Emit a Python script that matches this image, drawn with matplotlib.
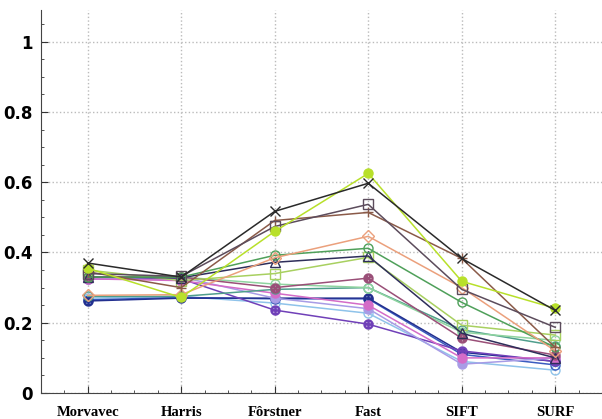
import matplotlib.pyplot as plt
from matplotlib.ticker import MultipleLocator

detectors = ["Morvavec", "Harris", "Fôrstner", "Fast", "SIFT", "SURF"]

# repeatability per image pair, one list per sequence
s_black = [0.370, 0.330, 0.517, 0.597, 0.383, 0.235]
s_lime = [0.355, 0.272, 0.460, 0.625, 0.318, 0.241]
s_gray = [0.340, 0.332, 0.474, 0.537, 0.295, 0.187]
s_brown = [0.345, 0.300, 0.491, 0.514, 0.383, 0.130]
s_salmon = [0.278, 0.280, 0.385, 0.446, 0.300, 0.120]
s_green = [0.330, 0.330, 0.392, 0.412, 0.258, 0.130]
s_navy_tri = [0.330, 0.328, 0.372, 0.390, 0.170, 0.100]
s_olive = [0.350, 0.320, 0.340, 0.386, 0.193, 0.165]
s_mauve = [0.330, 0.330, 0.300, 0.327, 0.156, 0.108]
s_mint = [0.330, 0.330, 0.310, 0.300, 0.173, 0.150]
s_teal = [0.275, 0.275, 0.295, 0.300, 0.180, 0.135]
s_pink = [0.325, 0.320, 0.284, 0.250, 0.100, 0.100]
s_navy = [0.262, 0.270, 0.270, 0.270, 0.116, 0.090]
s_blue = [0.265, 0.272, 0.268, 0.268, 0.110, 0.080]
s_lavender = [0.325, 0.330, 0.270, 0.240, 0.082, 0.100]
s_sky = [0.270, 0.275, 0.256, 0.227, 0.090, 0.065]
s_purple = [0.325, 0.325, 0.236, 0.196, 0.120, 0.090]

series = [
    (s_sky, "#8fc3ea", "o", False),
    (s_blue, "#3a5cc0", "o", False),
    (s_navy, "#23308f", "$\\oplus$", False),
    (s_purple, "#7040b8", "$\\oplus$", False),
    (s_lavender, "#a89ce6", "o", True),
    (s_pink, "#d46cc8", "o", True),
    (s_teal, "#4f9e8c", "o", False),
    (s_mint, "#8fd4a0", "o", False),
    (s_mauve, "#9a4f78", "$\\otimes$", False),
    (s_olive, "#a8d060", "s", False),
    (s_navy_tri, "#2e2e5a", "^", False),
    (s_green, "#4fa05a", "o", False),
    (s_salmon, "#eba07c", "D", False),
    (s_brown, "#8a5a48", "+", False),
    (s_gray, "#5c4c5c", "s", False),
    (s_lime, "#b8e02a", "o", True),
    (s_black, "#2a2a2a", "x", False),
]

fig = plt.figure(figsize=(6.02, 4.19), dpi=100)
ax = fig.add_axes([0.068, 0.062, 0.932, 0.914])

x = list(range(1, len(detectors) + 1))
for vals, color, marker, filled in series:
    ax.plot(x, vals, color=color, lw=1.1, marker=marker, ms=6.5,
            mfc=color if filled else "none", mec=color, mew=1.0)

ax.set_xlim(0.5, 6.5)
ax.set_ylim(0, 1.09)
ax.set_xticks(x)
ax.set_xticklabels(detectors, fontfamily="Liberation Serif",
                   fontweight="bold", fontsize=10.5)
ax.xaxis.set_minor_locator(MultipleLocator(0.25))
ax.set_yticks([0, 0.2, 0.4, 0.6, 0.8, 1.0])
ax.set_yticklabels(["0", "0.2", "0.4", "0.6", "0.8", "1"],
                   fontweight="bold", fontsize=12)
ax.yaxis.set_minor_locator(MultipleLocator(0.05))

ax.tick_params(which="both", direction="in", color="#333333")
ax.tick_params(which="major", length=5)
ax.tick_params(which="minor", length=2.5)
ax.tick_params(axis="x", pad=9)
ax.tick_params(axis="y", pad=6)

ax.grid(True, which="major", ls=":", color="#bbbbbb", lw=1.0)
for side in ("top", "right"):
    ax.spines[side].set_visible(False)
for side in ("left", "bottom"):
    ax.spines[side].set_color("#444444")

fig.savefig("out.png", dpi=100)
